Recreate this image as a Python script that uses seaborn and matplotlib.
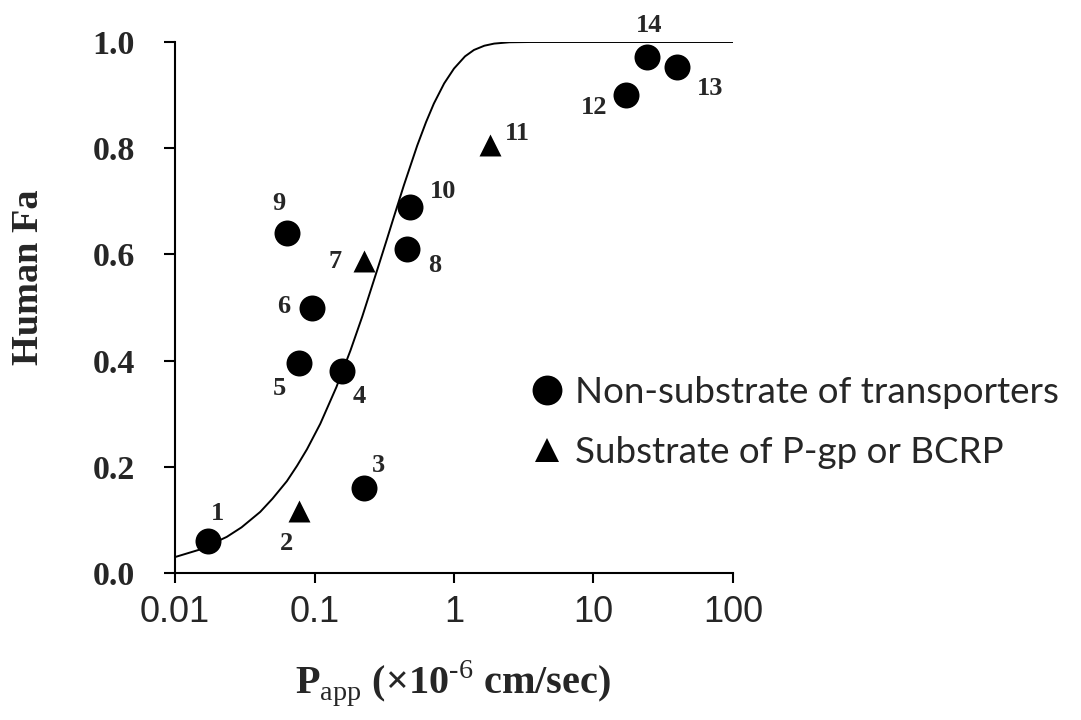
import matplotlib
matplotlib.use("Agg")
import matplotlib.pyplot as plt
from matplotlib.lines import Line2D
from matplotlib.ticker import NullLocator
import seaborn as sns
import pandas as pd

# ---------------- data ----------------
ids_non = ["1", "3", "4", "5", "6", "8", "9", "10", "12", "13", "14"]
papp_non = [0.0173, 0.225, 0.157, 0.078, 0.096, 0.46, 0.063, 0.48, 17.1, 39.5, 24.2]
fa_non = [0.061, 0.160, 0.381, 0.395, 0.499, 0.610, 0.640, 0.690, 0.900, 0.952, 0.971]

ids_sub = ["2", "7", "11"]
papp_sub = [0.078, 0.228, 1.81]
fa_sub = [0.116, 0.587, 0.806]

# fitted curve
curve_papp = [0.01, 0.015, 0.0235, 0.03, 0.0408, 0.05, 0.0634, 0.075, 0.0883, 0.11,
              0.1435, 0.181, 0.22, 0.281, 0.33, 0.37, 0.437, 0.545, 0.63, 0.717,
              0.85, 1.0, 1.2, 1.39, 1.65, 1.94, 2.5, 3.5, 100]
curve_fa = [0.030, 0.044, 0.068, 0.086, 0.115, 0.140, 0.173, 0.202, 0.233, 0.281,
            0.350, 0.419, 0.483, 0.570, 0.628, 0.670, 0.730, 0.805, 0.849, 0.884,
            0.922, 0.950, 0.973, 0.985, 0.993, 0.997, 0.9995, 1.0, 1.0]

legend_labels = ["Non-substrate of transporters", "Substrate of P-gp or BCRP"]
xtick_vals = [0.01, 0.1, 1, 10, 100]
xtick_labels = ["0.01", "0.1", "1", "10", "100"]
ytick_vals = [0.0, 0.2, 0.4, 0.6, 0.8, 1.0]
ytick_labels = ["0.0", "0.2", "0.4", "0.6", "0.8", "1.0"]

# label placement (pixel offsets from each point)
offsets_non = [(9, 27), (15, 23), (17, -26), (-20, -25), (-28, 2), (28, -16),
               (-8, 30), (34, 15), (-32, -12), (33, -21), (2, 32)]
offsets_sub = [(-13, -32), (-29, 0), (27, 12)]

# ---------------- plot ----------------
sns.set_theme(style="white")
plt.rcParams["font.family"] = ["Liberation Serif", "DejaVu Serif"]
plt.rcParams["mathtext.fontset"] = "custom"
plt.rcParams["mathtext.rm"] = "Liberation Serif"
plt.rcParams["mathtext.bf"] = "Liberation Serif:bold"

fig = plt.figure(figsize=(10.81, 7.2), dpi=100)
ax = fig.add_axes([175 / 1081, 1 - 573 / 720, (733 - 175) / 1081, (573 - 42) / 720])

df_curve = pd.DataFrame({"papp": curve_papp, "fa": curve_fa})
df_non = pd.DataFrame({"papp": papp_non, "fa": fa_non})
df_sub = pd.DataFrame({"papp": papp_sub, "fa": fa_sub})

sns.lineplot(data=df_curve, x="papp", y="fa", ax=ax, color="black", lw=1.4,
             sort=False, estimator=None, legend=False)
sns.scatterplot(data=df_non, x="papp", y="fa", ax=ax, marker="o", s=350,
                color="black", edgecolor="black", linewidth=0, legend=False, zorder=3)
sns.scatterplot(data=df_sub, x="papp", y="fa", ax=ax, marker="^", s=250,
                color="black", edgecolor="black", linewidth=0, legend=False, zorder=3)

for lab, x, y, off in zip(ids_non, papp_non, fa_non, offsets_non):
    ax.annotate(lab, (x, y), xytext=off, textcoords="offset pixels",
                ha="center", va="center", fontsize=19, fontweight="bold",
                family="Liberation Serif")
for lab, x, y, off in zip(ids_sub, papp_sub, fa_sub, offsets_sub):
    ax.annotate(lab, (x, y), xytext=off, textcoords="offset pixels",
                ha="center", va="center", fontsize=19, fontweight="bold",
                family="Liberation Serif")

ax.set_xscale("log")
ax.set_xlim(0.01, 100)
ax.set_ylim(0, 1.0)
ax.set_xticks(xtick_vals)
ax.set_xticklabels(xtick_labels)
ax.xaxis.set_minor_locator(NullLocator())
ax.set_yticks(ytick_vals)
ax.set_yticklabels(ytick_labels)
ax.set_xlabel("")
ax.set_ylabel("")

for s in ["top", "right"]:
    ax.spines[s].set_visible(False)
for s in ["left", "bottom"]:
    ax.spines[s].set_color("black")
    ax.spines[s].set_linewidth(1.5)

ax.tick_params(axis="x", direction="out", length=7, width=1.5, color="black",
               pad=9, bottom=True)
ax.tick_params(axis="y", direction="out", length=8, width=1.5, color="black",
               pad=21, left=True)
for t in ax.get_xticklabels():
    t.set_fontfamily("Liberation Sans")
    t.set_fontsize(26)
for t in ax.get_yticklabels():
    t.set_fontfamily("Liberation Serif")
    t.set_fontweight("bold")
    t.set_fontsize(24.5)

fig.text(453 / 1081, 1 - 693 / 720,
         r"P$_{\mathrm{app}}$ (×10$^{\mathrm{\text{-}6}}$ cm/sec)",
         ha="center", va="baseline", fontsize=29, fontweight="bold",
         family="Liberation Serif")
fig.text(29 / 1081, 1 - 277 / 720, "Human Fa", rotation=90, ha="center",
         va="center", fontsize=27.5, fontweight="bold", family="Liberation Serif")

handles = [
    Line2D([], [], marker="o", color="black", linestyle="none", markersize=21.5,
           markeredgewidth=0),
    Line2D([], [], marker="^", color="black", linestyle="none", markersize=17,
           markeredgewidth=0),
]
fs_leg = 26.5
leg = ax.legend(handles, legend_labels, loc="center left",
                bbox_to_anchor=((547 - 0.5 * fs_leg * 100 / 72) / 1081, 1 - 422.5 / 720),
                bbox_transform=fig.transFigure, frameon=False,
                prop={"family": "Lato", "size": fs_leg}, handlelength=1.0,
                handletextpad=0.26, labelspacing=0.74, borderpad=0, borderaxespad=0)

fig.savefig("out.png", dpi=100)
